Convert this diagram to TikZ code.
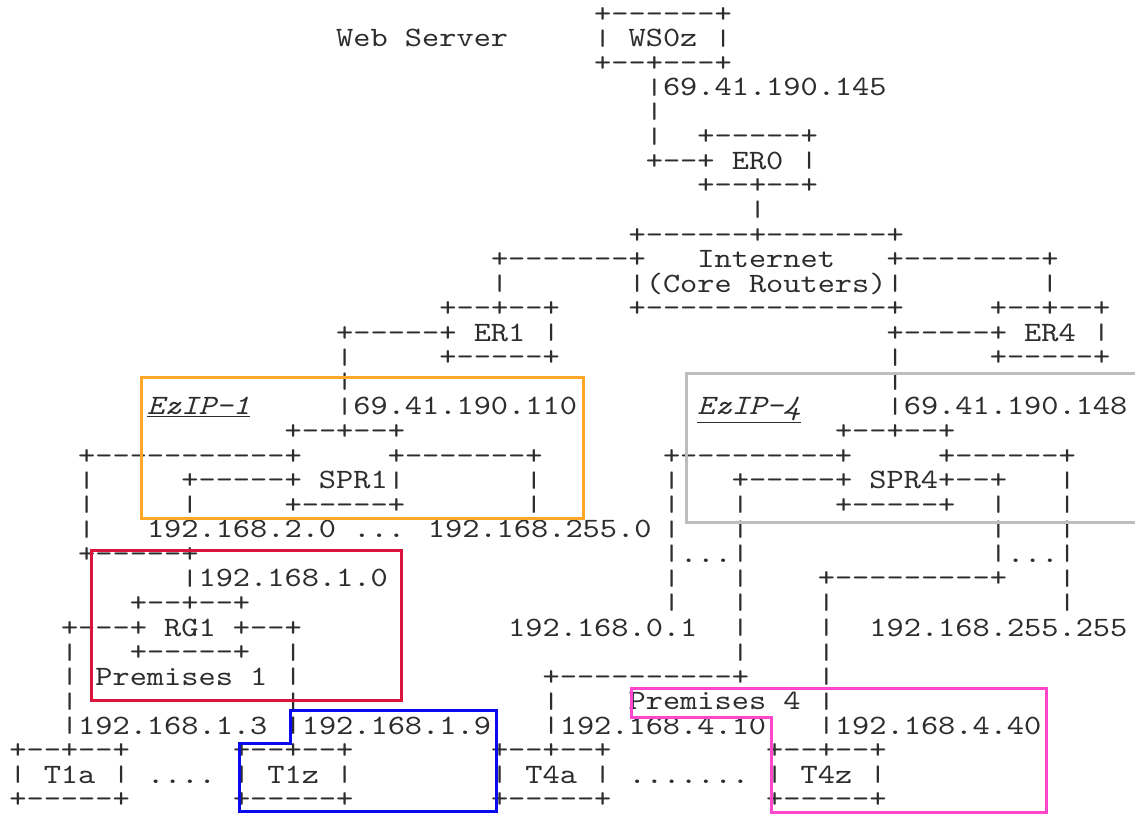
\documentclass[tikz,border=0pt]{standalone}
\usepackage{fontspec}
\newfontfamily\asciifont{lmmono10-regular.otf}[ItalicFont=lmmono10-italic.otf,WordSpace={1,0,0}]

\definecolor{txt}{RGB}{45,45,45}
\definecolor{zoneOrange}{RGB}{255,168,40}
\definecolor{zoneGrey}{RGB}{190,190,190}
\definecolor{zoneRed}{RGB}{220,20,60}
\definecolor{zoneBlue}{RGB}{10,10,240}
\definecolor{zonePink}{RGB}{255,70,205}

\tikzset{
  ascii/.style={inner sep=0pt, outer sep=0pt, anchor=base west, text=txt,
    text height=15pt, text depth=4pt,
    font=\asciifont\fontsize{28}{28}\selectfont},
  zone/.style={line width=3pt, line join=miter},
}

% one piece of fixed-pitch text at character column #2, text row #3
\newcommand\asc[4]{\node[ascii] (#1) at ({9.4+17.2*#2},{22+24.56*#3}) {\scalebox{1.17}[1]{#4}};}
% a vertical bar kept shorter than the line pitch, centred on the row
\newcommand\vb{\raisebox{1.5pt}{\scalebox{1}[0.8]{|}}}
\newcommand\zonelabel[1]{\underline{\itshape #1}}

\begin{document}
\begin{tikzpicture}[x=1pt,y=-1pt]
\useasboundingbox (0,0) rectangle (1135,814);
\clip (0,0) rectangle (1135,814);
\fill[white] (0,0) rectangle (1135,814);

% web server and its edge router
\asc{wsTop}{34}{0}{+------+}
\asc{wsLabel}{19}{1}{Web Server}
\asc{wsMid}{34}{1}{\vb{} WS0z \vb{}}
\asc{wsBot}{34}{2}{+--+---+}
\asc{wsAddr}{37}{3}{\vb{}69.41.190.145}
\asc{wsLinkA}{37}{4}{\vb{}}
\asc{wsLinkB}{37}{5}{\vb{}}
\asc{erzTop}{40}{5}{+-----+}
\asc{erzMid}{37}{6}{+--+ ER0 \vb{}}
\asc{erzBot}{40}{7}{+--+--+}
\asc{erzLink}{43}{8}{\vb{}}

% internet core
\asc{netTop}{36}{9}{+------+-------+}
\asc{netArmL}{28}{10}{+-------+}
\asc{netName}{40}{10}{Internet}
\asc{netArmR}{51}{10}{+--------+}
\asc{netDropL}{28}{11}{\vb{}}
\asc{netMid}{36}{11}{\vb{}(Core Routers)\vb{}}
\asc{netDropR}{60}{11}{\vb{}}
\asc{eroTop}{25}{12}{+--+--+}
\asc{netBot}{36}{12}{+--------------+}
\asc{erfTop}{57}{12}{+--+--+}

% edge routers ER1 and ER4
\asc{eroMid}{19}{13}{+-----+ ER1 \vb{}}
\asc{erfMid}{51}{13}{+-----+ ER4 \vb{}}
\asc{eroLinkA}{19}{14}{\vb{}}
\asc{eroBot}{25}{14}{+-----+}
\asc{erfLinkA}{51}{14}{\vb{}}
\asc{erfBot}{57}{14}{+-----+}
\asc{eroLinkB}{19}{15}{\vb{}}
\asc{erfLinkB}{51}{15}{\vb{}}
\asc{ezOne}{8}{16}{\zonelabel{EzIP-1}}
\asc{eroAddr}{19}{16}{\vb{}69.41.190.110}
\asc{ezFour}{40}{16}{\zonelabel{EzIP-4}}
\asc{erfAddr}{51}{16}{\vb{}69.41.190.148}

% SPR1 and SPR4
\asc{sproTop}{16}{17}{+--+--+}
\asc{sprfTop}{48}{17}{+--+--+}
\asc{sproArmL}{4}{18}{+-----------+}
\asc{sproArmR}{22}{18}{+-------+}
\asc{sprfArmL}{38}{18}{+---------+}
\asc{sprfArmR}{54}{18}{+------+}
\asc{sproDropA}{4}{19}{\vb{}}
\asc{sproMid}{10}{19}{+-----+ SPR1\vb{}}
\asc{sproDropB}{30}{19}{\vb{}}
\asc{sprfDropA}{38}{19}{\vb{}}
\asc{sprfMid}{42}{19}{+-----+ SPR4+--+}
\asc{sprfDropB}{61}{19}{\vb{}}
\asc{sproDropC}{4}{20}{\vb{}}
\asc{sproDropD}{10}{20}{\vb{}}
\asc{sproBot}{16}{20}{+-----+}
\asc{sproDropE}{30}{20}{\vb{}}
\asc{sprfDropC}{38}{20}{\vb{}}
\asc{sprfDropD}{42}{20}{\vb{}}
\asc{sprfBot}{48}{20}{+-----+}
\asc{sprfDropE}{57}{20}{\vb{}}
\asc{sprfDropF}{61}{20}{\vb{}}
\asc{sproRange}{8}{21}{192.168.2.0 ... 192.168.255.0}
\asc{sproDropF}{4}{21}{\vb{}}
\asc{sprfDropG}{38}{21}{\vb{}}
\asc{sprfDropH}{42}{21}{\vb{}}
\asc{sprfDropI}{57}{21}{\vb{}}
\asc{sprfDropJ}{61}{21}{\vb{}}
\asc{sproTurn}{4}{22}{+-----+}
\asc{sprfGapL}{38}{22}{\vb{}...\vb{}}
\asc{sprfGapR}{57}{22}{\vb{}...\vb{}}

% premises 1
\asc{rgAddr}{10}{23}{\vb{}192.168.1.0}
\asc{sprfDropK}{38}{23}{\vb{}}
\asc{sprfDropL}{42}{23}{\vb{}}
\asc{sprfTurn}{47}{23}{+---------+}
\asc{sprfDropM}{61}{23}{\vb{}}
\asc{rgTop}{7}{24}{+--+--+}
\asc{sprfDropN}{38}{24}{\vb{}}
\asc{sprfDropO}{42}{24}{\vb{}}
\asc{sprfDropP}{47}{24}{\vb{}}
\asc{sprfDropQ}{61}{24}{\vb{}}
\asc{rgMid}{3}{25}{+---+ RG1 +--+}
\asc{lowAddr}{29}{25}{192.168.0.1}
\asc{sprfDropR}{42}{25}{\vb{}}
\asc{sprfDropS}{47}{25}{\vb{}}
\asc{highAddr}{50}{25}{192.168.255.255}
\asc{rgDropA}{3}{26}{\vb{}}
\asc{rgBot}{7}{26}{+-----+}
\asc{rgDropB}{16}{26}{\vb{}}
\asc{sprfDropT}{42}{26}{\vb{}}
\asc{sprfDropU}{47}{26}{\vb{}}
\asc{premOne}{3}{27}{\vb{} Premises 1 \vb{}}
\asc{premFourTop}{31}{27}{+----------+}
\asc{sprfDropV}{47}{27}{\vb{}}
\asc{rgDropC}{3}{28}{\vb{}}
\asc{rgDropD}{16}{28}{\vb{}}
\asc{premFourDrop}{31}{28}{\vb{}}
\asc{premFour}{36}{28}{Premises 4}
\asc{sprfDropW}{47}{28}{\vb{}}

% terminals
\asc{toaAddr}{3}{29}{\vb{}192.168.1.3}
\asc{tozAddr}{16}{29}{\vb{}192.168.1.9}
\asc{tfaAddr}{31}{29}{\vb{}192.168.4.10}
\asc{tfzAddr}{47}{29}{\vb{}192.168.4.40}
\asc{toaTop}{0}{30}{+--+--+}
\asc{tozTop}{13}{30}{+--+--+}
\asc{tfaTop}{28}{30}{+--+--+}
\asc{tfzTop}{44}{30}{+--+--+}
\asc{toaMid}{0}{31}{\vb{} T1a \vb{}}
\asc{toDots}{8}{31}{....}
\asc{tozMid}{13}{31}{\vb{} T1z \vb{}}
\asc{tfaMid}{28}{31}{\vb{} T4a \vb{}}
\asc{tfDots}{36}{31}{.......}
\asc{tfzMid}{44}{31}{\vb{} T4z \vb{}}
\asc{toaBot}{0}{32}{+-----+}
\asc{tozBot}{13}{32}{+-----+}
\asc{tfaBot}{28}{32}{+-----+}
\asc{tfzBot}{44}{32}{+-----+}

% highlighted zones
\draw[zone, zoneOrange] (141,377) rectangle (583,518);
\draw[zone, zoneGrey] (686,373) rectangle (1150,522);
\draw[zone, zoneRed] (91,550) rectangle (401,700);
\draw[zone, zoneBlue] (239,811) -- (239,743) -- (290,743) -- (290,710)
  -- (496,710) -- (496,811) -- cycle;
\draw[zone, zonePink] (771,812) -- (771,717) -- (631,717) -- (631,688)
  -- (1046,688) -- (1046,812) -- cycle;
\end{tikzpicture}
\end{document}
